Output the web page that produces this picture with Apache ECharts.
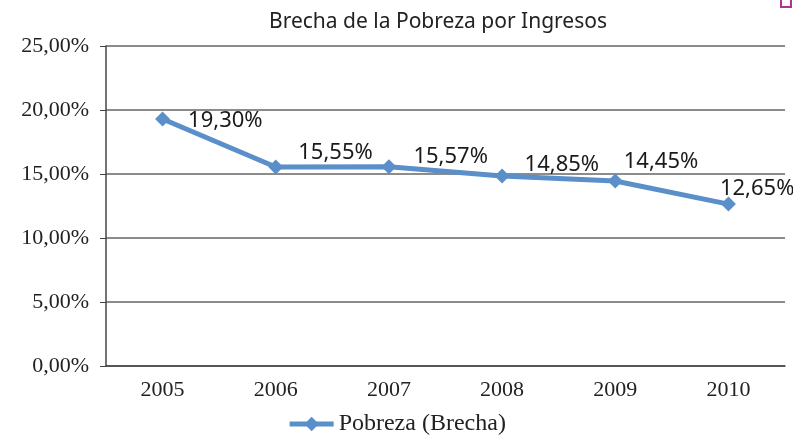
<!DOCTYPE html>
<html>
<head>
<meta charset="utf-8">
<script src="https://cdn.jsdelivr.net/npm/echarts@6/dist/echarts.min.js"></script>
<style>
  html, body { margin: 0; padding: 0; background: #fff; }
  #chart { width: 793px; height: 442px; }
</style>
</head>
<body>
<div id="chart"></div>
<script>
const years = ['2005', '2006', '2007', '2008', '2009', '2010'];
const brecha = [19.30, 15.55, 15.57, 14.85, 14.45, 12.65];
// label nudges, placed by hand in the original
const labelNudge = [[13, 2], [10, -14], [12, -10], [10, -11], [-4, -19], [-21, -15]];

const fmt = (v) => v.toFixed(2).replace('.', ',') + '%';

const chart = echarts.init(document.getElementById('chart'));

chart.setOption({
  animation: false,
  title: {
    text: 'Brecha de la Pobreza por Ingresos',
    left: 433,
    top: 7,
    textAlign: 'center',
    textStyle: { fontFamily: 'Noto Sans', fontSize: 21, fontWeight: 'normal', color: '#222' }
  },
  grid: { left: 106, right: 8, top: 46, bottom: 76 },
  legend: {
    bottom: 1,
    left: 'center',
    itemWidth: 44,
    itemHeight: 18,
    itemGap: 8,
    lineStyle: { width: 5, color: '#5a8fc9' },
    textStyle: { fontFamily: 'Liberation Serif', fontSize: 24, color: '#222' },
    data: ['Pobreza (Brecha)']
  },
  xAxis: {
    type: 'category',
    data: years,
    boundaryGap: true,
    axisLine: { lineStyle: { color: '#444', width: 1.5 } },
    axisTick: { length: 6, inside: false, lineStyle: { color: '#444' } },
    axisLabel: { fontFamily: 'Liberation Serif', fontSize: 22, color: '#222', margin: 13 }
  },
  yAxis: {
    type: 'value',
    min: 0,
    max: 25,
    interval: 5,
    axisLine: { show: true, lineStyle: { color: '#444', width: 1.5 } },
    axisTick: { show: true, length: 6, lineStyle: { color: '#444' } },
    splitLine: { lineStyle: { color: '#666', width: 1.5 } },
    axisLabel: {
      fontFamily: 'Liberation Serif', fontSize: 22, color: '#222', margin: 17,
      formatter: (v) => fmt(v)
    }
  },
  series: [{
    name: 'Pobreza (Brecha)',
    type: 'line',
    data: brecha.map((v, i) => ({
      value: v,
      label: { offset: labelNudge[i] }
    })),
    color: '#5a8fc9',
    lineStyle: { width: 5, color: '#5a8fc9' },
    symbol: 'diamond',
    symbolSize: 15,
    itemStyle: { color: '#5a8fc9' },
    label: {
      show: true,
      position: 'right',
      distance: 5,
      fontFamily: 'Noto Sans',
      fontSize: 22,
      color: '#1a1a1a',
      formatter: (p) => fmt(p.value)
    }
  }],
  graphic: [{
    type: 'rect',
    shape: { x: 781, y: -3, width: 10, height: 10 },
    style: { fill: 'none', stroke: '#b0329c', lineWidth: 2 }
  }]
});
</script>
</body>
</html>
